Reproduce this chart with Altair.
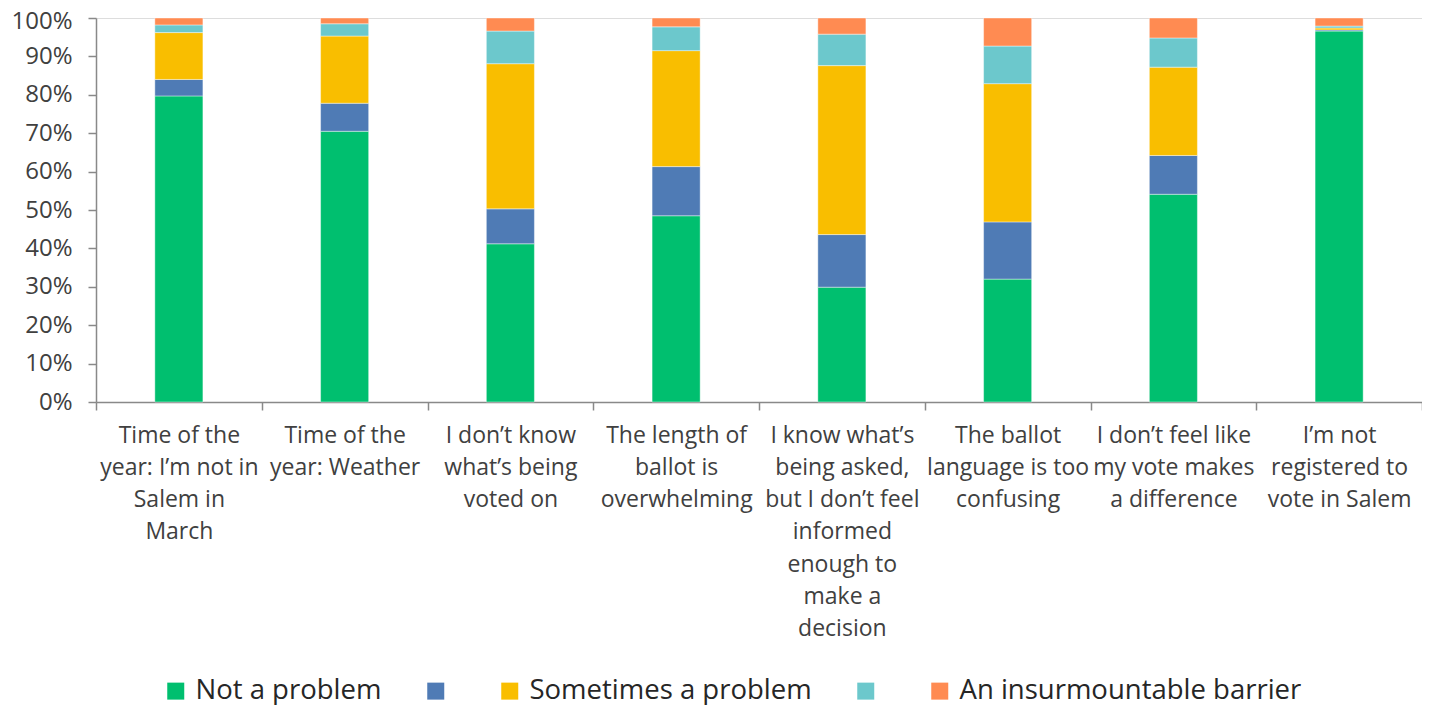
import altair as alt
import pandas as pd

categories = [
    "Time of the\nyear: I’m not in\nSalem in\nMarch",
    "Time of the\nyear: Weather",
    "I don’t know\nwhat’s being\nvoted on",
    "The length of\nballot is\noverwhelming",
    "I know what’s\nbeing asked,\nbut I don’t feel\ninformed\nenough to\nmake a\ndecision",
    "The ballot\nlanguage is too\nconfusing",
    "I don’t feel like\nmy vote makes\na difference",
    "I’m not\nregistered to\nvote in Salem",
]

series = ["Not a problem", "Minor problem", "Sometimes a problem", "Major problem", "An insurmountable barrier"]
colors = ["#00BF6F", "#4F7BB5", "#F9BE00", "#6CC8CC", "#FF8B52"]

not_a_problem = [79.7, 70.5, 41.2, 48.5, 29.9, 32.0, 54.1, 96.6]
minor_problem = [4.3, 7.3, 9.1, 12.8, 13.7, 14.9, 10.1, 0.3]
sometimes_problem = [12.2, 17.5, 37.8, 30.2, 44.0, 36.0, 23.0, 0.5]
major_problem = [2.0, 3.2, 8.5, 6.2, 8.2, 9.8, 7.6, 0.5]
insurmountable = [1.8, 1.5, 3.4, 2.3, 4.2, 7.3, 5.2, 2.1]

values_by_series = [not_a_problem, minor_problem, sometimes_problem, major_problem, insurmountable]

rows = []
for si, (name, vals) in enumerate(zip(series, values_by_series)):
    for cat, v in zip(categories, vals):
        rows.append({"category": cat, "series": name, "value": v, "order": si})
df = pd.DataFrame(rows)

FONT = "Open Sans"
TEXT = "#404040"
AXIS = "#898989"

chart = alt.Chart(df).mark_bar(
    width=alt.RelativeBandSize(0.29), stroke="white", strokeWidth=0.6, strokeOpacity=0.7
).encode(
    x=alt.X(
        "category:N",
        sort=categories,
        scale=alt.Scale(paddingInner=0, paddingOuter=0),
        axis=alt.Axis(
            title=None,
            labelAngle=0,
            labelExpr="split(datum.label, '\\n')",
            tickBand="extent",
            labelFont=FONT,
            labelFontSize=23,
            labelColor=TEXT,
            labelLineHeight=32.3,
            labelPadding=14,
            labelLimit=300,
            tickSize=8,
            tickColor=AXIS,
            tickWidth=1.5,
            domainColor=AXIS,
            domainWidth=1.5,
            labelBaseline="top",
        ),
    ),
    y=alt.Y(
        "value:Q",
        stack="zero",
        scale=alt.Scale(domain=[0, 100], nice=False),
        axis=alt.Axis(
            title=None,
            values=list(range(0, 101, 10)),
            labelExpr="datum.value + '%'",
            grid=False,
            labelFont=FONT,
            labelFontSize=24,
            labelColor=TEXT,
            labelPadding=16,
            labelOffset={"condition": {"test": "datum.value == 100", "value": 3}, "value": 0},
            tickSize=8,
            tickColor=AXIS,
            tickWidth=1.5,
            domainColor=AXIS,
            domainWidth=1.5,
        ),
    ),
    color=alt.Color(
        "series:N",
        scale=alt.Scale(domain=series, range=colors),
        legend=alt.Legend(
            title=None,
            orient="none",
            direction="horizontal",
            legendX=66,
            legendY=659,
            symbolType="square",
            symbolSize=289,
            symbolStrokeWidth=0,
            labelFont=FONT,
            labelFontSize=27.5,
            labelColor="#262626",
            labelLimit=500,
            labelOffset=6,
            columnPadding=40,
            labelExpr="(datum.label == 'Minor problem' || datum.label == 'Major problem') ? '' : datum.label",
        ),
    ),
    order=alt.Order("order:Q"),
).properties(
    width=1326,
    height=384,
    autosize=alt.AutoSizeParams(type="none"),
    padding={"left": 88, "top": 10, "right": 0, "bottom": 305},
).configure_view(stroke=None).configure(font=FONT)

chart.save("out.html", embed_options={"renderer": "svg", "actions": False})
